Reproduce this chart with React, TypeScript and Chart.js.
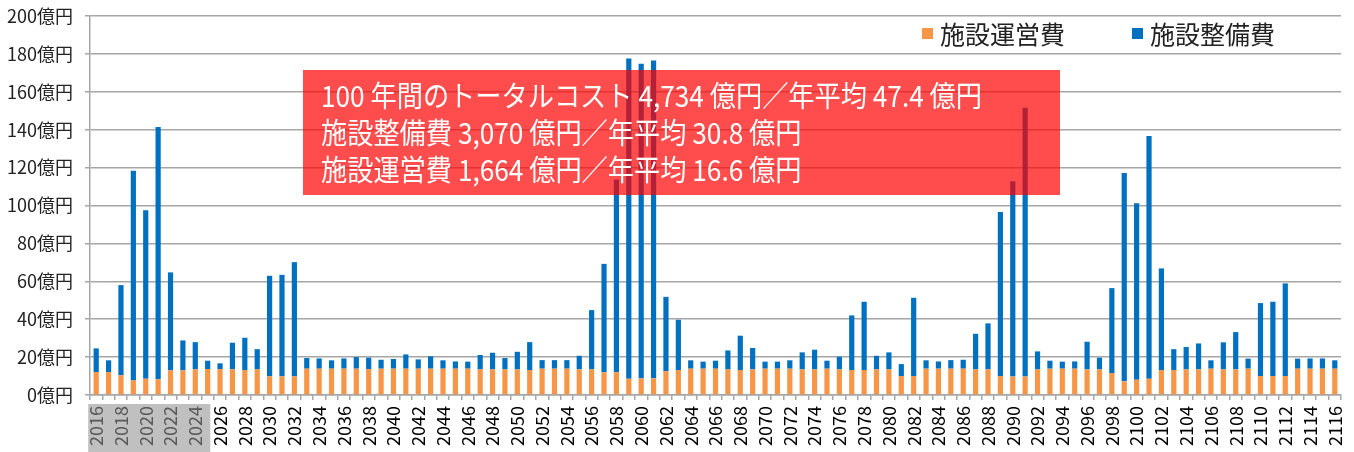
import React, { useEffect, useRef } from "react";
import { Chart, registerables } from "chart.js";

Chart.register(...registerables);

const YEARS = [
  "2016","2017","2018","2019","2020","2021","2022","2023","2024","2025",
  "2026","2027","2028","2029","2030","2031","2032","2033","2034","2035",
  "2036","2037","2038","2039","2040","2041","2042","2043","2044","2045",
  "2046","2047","2048","2049","2050","2051","2052","2053","2054","2055",
  "2056","2057","2058","2059","2060","2061","2062","2063","2064","2065",
  "2066","2067","2068","2069","2070","2071","2072","2073","2074","2075",
  "2076","2077","2078","2079","2080","2081","2082","2083","2084","2085",
  "2086","2087","2088","2089","2090","2091","2092","2093","2094","2095",
  "2096","2097","2098","2099","2100","2101","2102","2103","2104","2105",
  "2106","2107","2108","2109","2110","2111","2112","2113","2114","2115",
  "2116",
];

// 施設運営費 (orange, bottom)
const OPERATING = [
  12.1, 12.1, 10.4, 7.7, 8.6, 8.3, 13.0, 13.0, 13.5, 13.7,
  13.7, 13.5, 13.2, 13.5, 9.8, 9.8, 9.8, 13.9, 13.9, 13.9,
  13.9, 13.9, 13.7, 13.9, 13.9, 13.9, 13.9, 13.9, 13.9, 13.9,
  13.9, 13.5, 13.5, 13.5, 13.5, 13.2, 13.9, 13.9, 13.9, 13.5,
  13.5, 12.0, 12.0, 8.6, 8.8, 8.8, 12.6, 13.2, 13.9, 13.9,
  13.9, 13.5, 13.2, 13.5, 13.9, 13.9, 13.9, 13.5, 13.5, 13.9,
  13.5, 13.2, 13.2, 13.5, 13.5, 10.0, 10.0, 13.9, 13.9, 13.9,
  13.9, 13.5, 13.5, 10.0, 9.7, 9.7, 13.5, 13.9, 13.9, 13.9,
  13.5, 13.5, 11.6, 7.2, 8.1, 8.6, 13.2, 13.2, 13.5, 13.5,
  13.9, 13.5, 13.5, 13.9, 10.0, 10.0, 10.0, 13.9, 13.9, 13.9,
  13.9,
];

// 施設整備費 (blue, top)
const MAINTENANCE = [
  12.5, 6.2, 47.6, 110.7, 88.9, 133.1, 51.7, 15.8, 14.4, 4.4,
  3.0, 14.1, 17.0, 10.7, 53.1, 53.6, 60.3, 5.6, 5.4, 4.4,
  5.4, 6.1, 6.0, 4.7, 5.1, 7.5, 4.9, 6.5, 4.4, 3.8,
  3.7, 7.6, 8.8, 6.0, 9.3, 14.7, 4.5, 4.5, 4.5, 7.2,
  31.3, 57.2, 101.7, 169.0, 166.0, 167.7, 39.2, 26.5, 4.4, 3.7,
  4.2, 10.0, 18.1, 11.3, 3.7, 3.7, 4.4, 9.0, 10.4, 4.2,
  6.7, 28.8, 36.0, 7.2, 9.0, 6.3, 41.3, 4.4, 3.8, 4.5,
  4.7, 18.8, 24.3, 86.6, 103.1, 141.9, 9.5, 4.2, 3.7, 3.8,
  14.6, 6.2, 44.8, 110.0, 93.1, 128.1, 53.6, 11.0, 11.8, 13.7,
  4.4, 14.3, 19.7, 5.3, 38.5, 39.2, 48.9, 5.3, 5.4, 5.4,
  4.4,
];

const SERIES_NAMES = ["施設運営費", "施設整備費"];
const SERIES_COLORS = ["#F79646", "#0070C0"];
const Y_TICKS = [0, 20, 40, 60, 80, 100, 120, 140, 160, 180, 200];
const Y_UNIT = "億円";
const HIGHLIGHT_LAST_YEAR = "2024";

const NOTE_LINES = [
  "100 年間のトータルコスト 4,734 億円／年平均 47.4 億円",
  "施設整備費 3,070 億円／年平均 30.8 億円",
  "施設運営費 1,664 億円／年平均 16.6 億円",
];

const FONT = "'Noto Sans CJK JP', 'Noto Sans', sans-serif";

const overlayPlugin = {
  id: "overlay",
  beforeDraw(chart: any) {
    const ctx = chart.ctx;
    const x = chart.scales.x;
    const lastIdx = YEARS.indexOf(HIGHLIGHT_LAST_YEAR);
    const left = x.getPixelForTick(0) - 8;
    const right = x.getPixelForTick(lastIdx) + 15;
    ctx.save();
    ctx.fillStyle = "#c0c0c0";
    ctx.fillRect(left, x.top + 9, right - left, chart.height - (x.top + 9));
    ctx.restore();
  },
  afterDraw(chart: any) {
    const ctx = chart.ctx;
    ctx.save();
    // semi-transparent red note box
    ctx.fillStyle = "rgba(255,0,0,0.7)";
    ctx.fillRect(303, 70, 757, 125);
    ctx.fillStyle = "#ffffff";
    ctx.font = `29px ${FONT}`;
    ctx.textBaseline = "middle";
    ctx.textAlign = "left";
    const w0 = ctx.measureText(NOTE_LINES[0]).width;
    const sx = 661 / w0;
    const ys = [96, 133, 170];
    NOTE_LINES.forEach((line, i) => {
      ctx.save();
      ctx.translate(321, ys[i]);
      ctx.scale(sx, 1);
      ctx.fillText(line, 0, 0);
      ctx.restore();
    });
    // legend
    const lx = [922, 1132];
    ctx.font = `25px ${FONT}`;
    SERIES_NAMES.forEach((name, i) => {
      ctx.fillStyle = SERIES_COLORS[i];
      ctx.fillRect(lx[i], 28, 11, 11);
      ctx.fillStyle = "#222222";
      ctx.fillText(name, lx[i] + 18, 34);
    });
    ctx.restore();
  },
};

export default function App() {
  const ref = useRef<HTMLCanvasElement | null>(null);

  useEffect(() => {
    document.body.style.margin = "0";
    const canvas = ref.current;
    if (!canvas) return;
    const chart = new Chart(canvas, {
      type: "bar",
      data: {
        labels: YEARS,
        datasets: [
          {
            label: SERIES_NAMES[0],
            data: OPERATING,
            backgroundColor: SERIES_COLORS[0],
            barPercentage: 0.42,
            categoryPercentage: 1,
          },
          {
            label: SERIES_NAMES[1],
            data: MAINTENANCE,
            backgroundColor: SERIES_COLORS[1],
            barPercentage: 0.42,
            categoryPercentage: 1,
          },
        ],
      },
      options: {
        responsive: false,
        animation: false,
        layout: { padding: { top: 16, right: 13, left: 0, bottom: 0 } },
        plugins: {
          legend: { display: false },
          tooltip: { enabled: false },
        },
        scales: {
          x: {
            stacked: true,
            afterFit: (s: any) => {
              s.height = 57;
              s.paddingLeft = 0;
              s.paddingRight = 0;
            },
            grid: {
              display: true,
              drawOnChartArea: false,
              drawTicks: true,
              tickLength: 5,
              color: "#a6a6a6",
              lineWidth: 1.5,
            },
            border: { display: true, color: "#a6a6a6", width: 1.5 },
            ticks: {
              autoSkip: false,
              minRotation: 90,
              maxRotation: 90,
              padding: 6,
              font: { family: FONT, size: 18 },
              color: (c: any) =>
                c.index <= YEARS.indexOf(HIGHLIGHT_LAST_YEAR) ? "#595959" : "#000000",
              callback: (_v: any, i: number) => (i % 2 === 0 ? YEARS[i] : ""),
            },
          },
          y: {
            stacked: true,
            min: 0,
            max: 200,
            afterFit: (s: any) => {
              s.width = 90;
              s.paddingTop = 0;
              s.paddingBottom = 0;
            },
            afterBuildTicks: (s: any) => {
              s.ticks = Y_TICKS.map((v) => ({ value: v }));
            },
            grid: {
              color: "#a6a6a6",
              lineWidth: 1.5,
              tickLength: 5,
            },
            border: { display: true, color: "#a6a6a6", width: 1.5 },
            ticks: {
              padding: 12,
              font: { family: FONT, size: 18 },
              color: "#222222",
              callback: (v: any) => `${v}${Y_UNIT}`,
            },
          },
        },
      },
      plugins: [overlayPlugin],
    });
    return () => chart.destroy();
  }, []);

  return (
    <div style={{ width: 1354, height: 452 }}>
      <canvas ref={ref} width={1354} height={452} />
    </div>
  );
}
